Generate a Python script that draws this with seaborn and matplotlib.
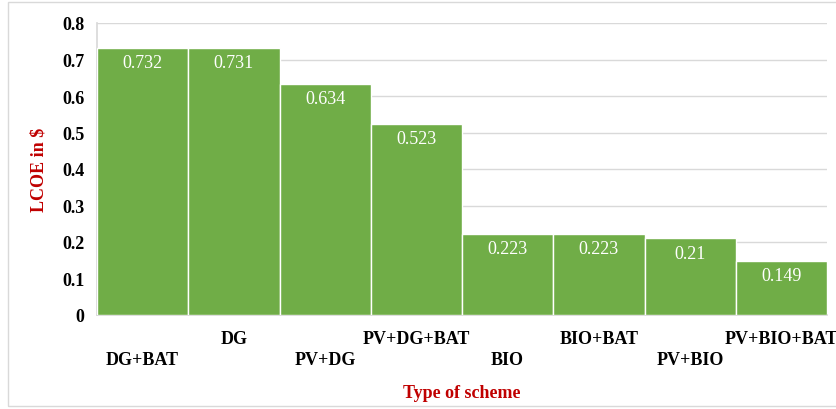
import matplotlib
matplotlib.use("Agg")
import matplotlib.pyplot as plt
from matplotlib.patches import Rectangle
import seaborn as sns
import pandas as pd

schemes = ["DG+BAT", "DG", "PV+DG", "PV+DG+BAT", "BIO", "BIO+BAT", "PV+BIO", "PV+BIO+BAT"]
lcoe = [0.732, 0.731, 0.634, 0.523, 0.223, 0.223, 0.21, 0.149]
y_ticks = [0, 0.1, 0.2, 0.3, 0.4, 0.5, 0.6, 0.7, 0.8]
y_tick_labels = ["0", "0.1", "0.2", "0.3", "0.4", "0.5", "0.6", "0.7", "0.8"]

sns.set_theme(style="white")
plt.rcParams["font.family"] = ["Liberation Serif", "DejaVu Serif"]

df = pd.DataFrame({"scheme": schemes, "lcoe": lcoe})

fig = plt.figure(figsize=(8.37, 4.10), dpi=100)
ax = fig.add_axes([97 / 837, 1 - 316 / 410, 730 / 837, 292 / 410])

sns.barplot(data=df, x="scheme", y="lcoe", color="#70AD47", saturation=1,
            width=1.0, edgecolor="white", linewidth=1.0, ax=ax, zorder=3)

ax.set_ylim(0, 0.8)
ax.set_xlim(-0.5, len(schemes) - 0.5)
ax.set_yticks(y_ticks)
ax.set_yticklabels(y_tick_labels, fontsize=13, fontweight="bold", color="black")
ax.grid(axis="y", color="#D9D9D9", linewidth=1.0, zorder=0)
ax.grid(axis="x", visible=False)

for side in ["top", "right"]:
    ax.spines[side].set_visible(False)
ax.spines["left"].set_color("#D9D9D9")
ax.spines["bottom"].set_color("#D9D9D9")
ax.tick_params(axis="both", length=0)
ax.tick_params(axis="y", pad=9)

ax.set_xticks(range(len(schemes)))
ax.set_xticklabels(schemes, fontsize=13, fontweight="bold", color="black")
for i, tick in enumerate(ax.xaxis.get_major_ticks()):
    tick.set_pad(26 if i % 2 == 0 else 11)

for i, v in enumerate(lcoe):
    ax.annotate(f"{v:g}", xy=(i, v), xytext=(0, -4.5), textcoords="offset points",
                ha="center", va="top", color="white", fontsize=13, zorder=4)

ax.set_xlabel("Type of scheme", fontsize=13, fontweight="bold", color="#C00000")
ax.set_ylabel("LCOE in $", fontsize=13, fontweight="bold", color="#C00000")
ax.xaxis.set_label_coords(0.5, -0.235)
ax.yaxis.set_label_coords(-0.068, 0.5)

fig.patches.append(Rectangle((8 / 837, 3 / 410), 1.0, 404 / 410,
                             transform=fig.transFigure, fill=False,
                             edgecolor="#D9D9D9", linewidth=1.0))

fig.savefig("out.png", dpi=100)
